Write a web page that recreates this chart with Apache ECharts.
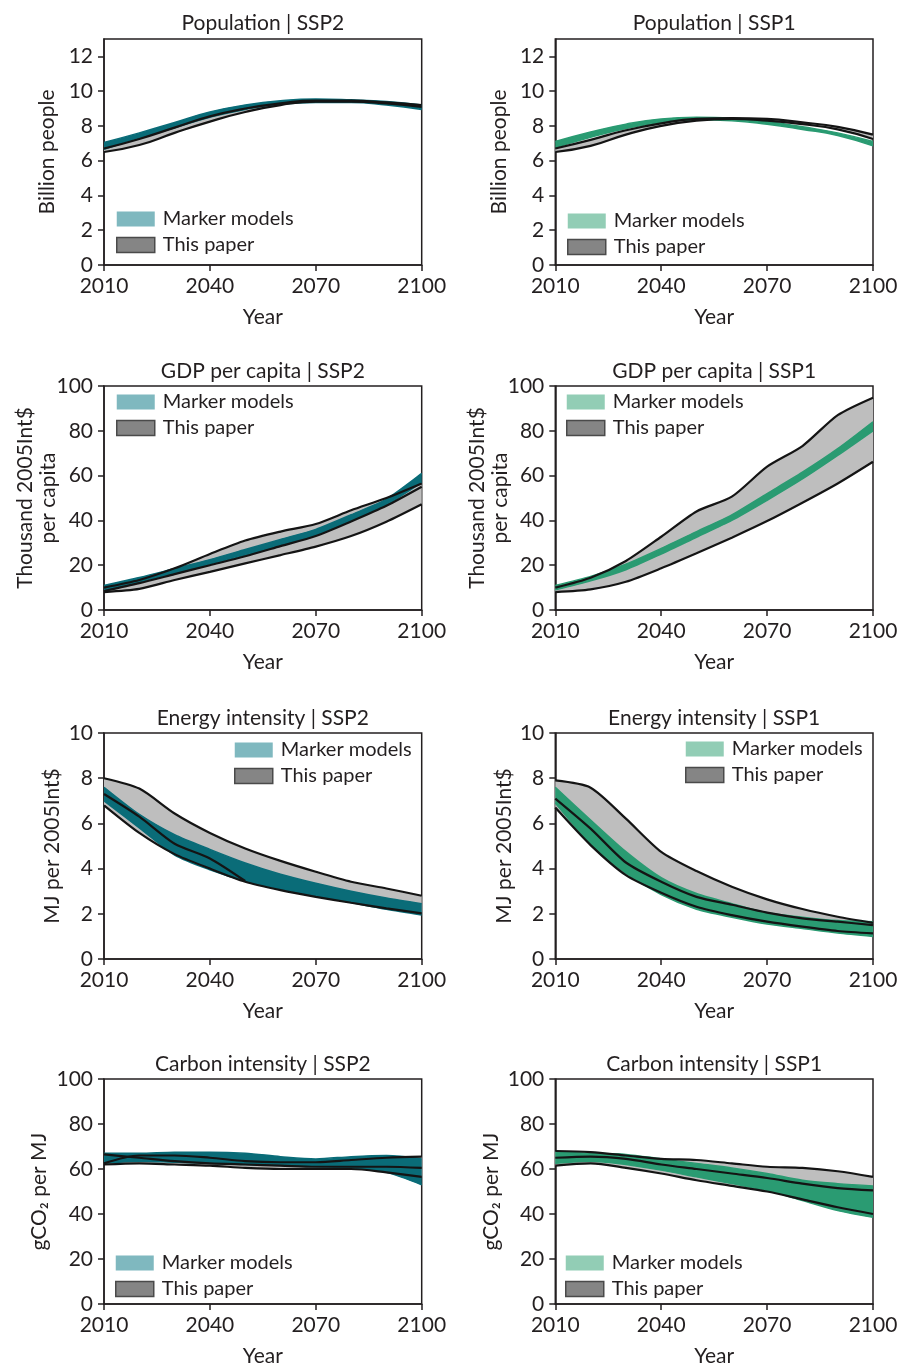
<!DOCTYPE html>
<html><head><meta charset="utf-8">
<script src="https://cdn.jsdelivr.net/npm/echarts@6.0.0/dist/echarts.min.js"></script>
<style>html,body{margin:0;padding:0;background:#fff}#c{width:918px;height:1368px}</style>
</head><body><div id="c"></div>
<script>
// ---------- DATA ----------
const years = ['2010','2020','2030','2040','2050','2060','2070','2080','2090','2100'];

const popTicks = [0,2,4,6,8,10,12];
const pctTicks = [0,20,40,60,80,100];
const eiTicks = [0,2,4,6,8,10];

// Population | SSP2
const popSSP2MarkerLow  = [6.65, 7.3, 7.9, 8.5, 8.95, 9.25, 9.35, 9.35, 9.2, 8.95];
const popSSP2MarkerHigh = [7.05, 7.6, 8.2, 8.8, 9.2, 9.45, 9.55, 9.5, 9.4, 9.2];
const popSSP2PaperLow   = [6.5, 6.9, 7.6, 8.25, 8.8, 9.2, 9.4, 9.4, 9.3, 9.1];
const popSSP2PaperHigh  = [6.7, 7.25, 7.9, 8.55, 9.0, 9.3, 9.45, 9.45, 9.35, 9.2];
// Population | SSP1
const popSSP1MarkerLow  = [6.75, 7.35, 7.85, 8.2, 8.35, 8.3, 8.1, 7.8, 7.45, 6.85];
const popSSP1MarkerHigh = [7.1, 7.65, 8.1, 8.4, 8.5, 8.45, 8.25, 7.95, 7.6, 7.1];
const popSSP1PaperLow   = [6.5, 6.85, 7.5, 8.0, 8.3, 8.4, 8.3, 8.1, 7.8, 7.25];
const popSSP1PaperHigh  = [6.7, 7.2, 7.75, 8.15, 8.4, 8.45, 8.4, 8.2, 7.95, 7.5];
// GDP per capita | SSP2
const gdpSSP2MarkerLow  = [9, 12.5, 16.5, 20.5, 24.5, 29, 33.5, 40, 47, 57];
const gdpSSP2MarkerHigh = [11, 14.5, 18.5, 22.5, 27, 31.5, 36, 42.5, 49.5, 61];
const gdpSSP2PaperLow   = [8, 9.4, 13.4, 17, 20.8, 24.5, 28.3, 33, 39.4, 47.2];
const gdpSSP2PaperHigh  = [10, 13.4, 18.6, 25, 31, 35, 38.4, 44.5, 50, 56.5];
const gdpSSP2PaperMid   = [8.5, 12, 16, 20, 24, 28.5, 33, 39.5, 46.5, 55];
// GDP per capita | SSP1
const gdpSSP1MarkerLow  = [9, 13, 18, 25, 32.5, 40, 49, 58.5, 69, 80];
const gdpSSP1MarkerHigh = [11, 15, 20.5, 27.5, 35, 42.5, 52, 61.5, 72, 84];
const gdpSSP1PaperLow   = [8, 9.2, 12.6, 18.6, 25.3, 32.3, 39.7, 47.9, 56.5, 66.2];
const gdpSSP1PaperHigh  = [10, 14.4, 21.9, 32.7, 44, 50.6, 64, 73.2, 87, 94.8];
// Energy intensity | SSP2
const eiSSP2MarkerLow   = [7.0, 5.8, 4.6, 3.95, 3.45, 3.1, 2.8, 2.5, 2.2, 1.95];
const eiSSP2MarkerHigh  = [7.6, 6.4, 5.5, 4.85, 4.25, 3.75, 3.35, 3.0, 2.7, 2.45];
const eiSSP2PaperLow    = [6.8, 5.58, 4.64, 4.0, 3.42, 3.05, 2.75, 2.49, 2.24, 2.02];
const eiSSP2PaperHigh   = [8.0, 7.54, 6.44, 5.58, 4.89, 4.34, 3.86, 3.42, 3.12, 2.8];
const eiSSP2PaperMid    = [7.3, 6.3, 5.1, 4.45, 3.45, null, null, null, null, null];
// Energy intensity | SSP1
const eiSSP1MarkerLow   = [6.9, 5.1, 3.8, 2.85, 2.2, 1.85, 1.55, 1.35, 1.15, 1.0];
const eiSSP1MarkerHigh  = [7.6, 6.15, 4.75, 3.6, 2.9, 2.45, 2.05, 1.85, 1.7, 1.65];
const eiSSP1PaperLow    = [6.7, 5.04, 3.71, 2.93, 2.31, 1.94, 1.65, 1.43, 1.24, 1.13];
const eiSSP1PaperHigh   = [7.9, 7.58, 6.21, 4.74, 3.89, 3.2, 2.64, 2.21, 1.87, 1.6];
const eiSSP1PaperMid    = [7.1, 5.77, 4.27, 3.42, 2.75, 2.4, 2.05, 1.8, 1.65, 1.5];
// Carbon intensity | SSP2
const ciSSP2MarkerLow   = [62.5, 63.5, 63, 62.5, 62, 61.5, 61, 60.5, 58.5, 53];
const ciSSP2MarkerHigh  = [67, 67, 67.5, 67.5, 67, 65.5, 64.5, 65.5, 66, 64.5];
const ciSSP2PaperLow    = [62, 62.5, 62, 61.5, 60.5, 60, 60, 60, 58.5, 56.5];
const ciSSP2PaperHigh   = [62.5, 66, 66, 65, 63.5, 63, 63, 64, 65, 65.5];
const ciSSP2PaperMid    = [66.5, 65, 63.5, 62.5, 62, 61.5, 61, 61, 61, 60.5];
// Carbon intensity | SSP1
const ciSSP1MarkerLow   = [62.5, 63.5, 62, 59.5, 56.5, 53.5, 50.5, 46, 41.5, 38.5];
const ciSSP1MarkerHigh  = [67.5, 67, 66.5, 64.5, 62.5, 60.5, 58, 55, 53.5, 52.5];
const ciSSP1PaperLow    = [61.5, 62.5, 60.5, 58, 55, 52.5, 50, 46.5, 43, 40];
const ciSSP1PaperHigh   = [68, 67.5, 66, 64.5, 64, 62.5, 61, 60.5, 59, 56.5];
const ciSSP1PaperMid    = [65, 65.5, 64.5, 62, 60, 58, 56, 53.5, 51.5, 50.5];

// ---------- STYLE / LAYOUT ----------
const FONT = 'Lato';
const TXT = '#231f20';
const FS = 21;
const COLS = [104, 555.3];
const GW = 317.7;
const ROWS = [{top:39, h:226}, {top:386, h:224}, {top:733, h:226}, {top:1079, h:225}];
const TITLE_Y = [22, 370, 717, 1063];
const SCEN = {
  SSP2: {band:'#0a6c78', legend:'#7fb8bf'},
  SSP1: {band:'#2a9b72', legend:'#92cdb5'}
};

const panels = [
  {title:'Population | SSP2', scen:'SSP2', r:0, c:0, yName:'Billion people', nameGap:45, yMax:13, ticks:popTicks, smooth:0.5,
   m:[popSSP2MarkerLow, popSSP2MarkerHigh], p:[popSSP2PaperLow, popSSP2PaperHigh], mid:null, lg:{left:116, top:209}},
  {title:'Population | SSP1', scen:'SSP1', r:0, c:1, yName:'Billion people', nameGap:45, yMax:13, ticks:popTicks, smooth:0.5,
   m:[popSSP1MarkerLow, popSSP1MarkerHigh], p:[popSSP1PaperLow, popSSP1PaperHigh], mid:null, lg:{left:567, top:211}},
  {title:'GDP per capita | SSP2', scen:'SSP2', r:1, c:0, yName:'Thousand 2005Int$\nper capita', nameGap:44, yMax:100, ticks:pctTicks, smooth:0.25,
   m:[gdpSSP2MarkerLow, gdpSSP2MarkerHigh], p:[gdpSSP2PaperLow, gdpSSP2PaperHigh], mid:gdpSSP2PaperMid, lg:{left:116, top:392}},
  {title:'GDP per capita | SSP1', scen:'SSP1', r:1, c:1, yName:'Thousand 2005Int$\nper capita', nameGap:44, yMax:100, ticks:pctTicks, smooth:0.25,
   m:[gdpSSP1MarkerLow, gdpSSP1MarkerHigh], p:[gdpSSP1PaperLow, gdpSSP1PaperHigh], mid:null, lg:{left:566, top:392}},
  {title:'Energy intensity | SSP2', scen:'SSP2', r:2, c:0, yName:'MJ per 2005Int$', nameGap:40, yMax:10, ticks:eiTicks, smooth:0.25,
   m:[eiSSP2MarkerLow, eiSSP2MarkerHigh], p:[eiSSP2PaperLow, eiSSP2PaperHigh], mid:eiSSP2PaperMid, lg:{left:234, top:740}},
  {title:'Energy intensity | SSP1', scen:'SSP1', r:2, c:1, yName:'MJ per 2005Int$', nameGap:40, yMax:10, ticks:eiTicks, smooth:0.25,
   m:[eiSSP1MarkerLow, eiSSP1MarkerHigh], p:[eiSSP1PaperLow, eiSSP1PaperHigh], mid:eiSSP1PaperMid, lg:{left:685, top:739}},
  {title:'Carbon intensity | SSP2', scen:'SSP2', r:3, c:0, yName:'gCO\u2082 per MJ', nameGap:53, yMax:100, ticks:pctTicks, smooth:0.3,
   m:[ciSSP2MarkerLow, ciSSP2MarkerHigh], p:[ciSSP2PaperLow, ciSSP2PaperHigh], mid:ciSSP2PaperMid, lg:{left:115, top:1253}},
  {title:'Carbon intensity | SSP1', scen:'SSP1', r:3, c:1, yName:'gCO\u2082 per MJ', nameGap:53, yMax:100, ticks:pctTicks, smooth:0.3,
   m:[ciSSP1MarkerLow, ciSSP1MarkerHigh], p:[ciSSP1PaperLow, ciSSP1PaperHigh], mid:ciSSP1PaperMid, lg:{left:565, top:1253}}
];

const grid = [], xAxis = [], yAxis = [], series = [], title = [], legend = [];
const noEmph = {disabled:true};

function bandSeries(k, name, lo, hi, color, z, smooth, edge) {
  const st = 'band_' + name + '_' + k;
  const ls = edge ? {width:1.5, color, opacity:1} : {width:0, opacity:0};
  const common = {type:'line', name, xAxisIndex:k, yAxisIndex:k, stack:st, symbol:'none', smooth,
    lineStyle:ls, z, silent:true, emphasis:noEmph};
  return [
    Object.assign({}, common, {data: lo}),
    Object.assign({}, common, {data: hi.map((v, i) => v - lo[i]), areaStyle:{color, opacity:1}})
  ];
}
function blackLine(k, data, smooth) {
  return {type:'line', name:'This paper', xAxisIndex:k, yAxisIndex:k, data, symbol:'none', smooth,
    lineStyle:{color:'#141414', width:2.2}, z:6, silent:true, emphasis:noEmph, connectNulls:false};
}

panels.forEach((p, k) => {
  const left = COLS[p.c], row = ROWS[p.r];
  grid.push({left, top:row.top, width:GW, height:row.h, show:true, borderColor:TXT, borderWidth:1.5, backgroundColor:'transparent'});
  xAxis.push({
    type:'category', gridIndex:k, data:years, boundaryGap:false,
    name:'Year', nameLocation:'middle', nameGap:42, nameMoveOverlap:false,
    nameTextStyle:{fontFamily:FONT, fontSize:FS, color:TXT},
    axisLine:{lineStyle:{color:TXT, width:1.5}},
    axisTick:{show:true, interval:2, length:6, lineStyle:{color:TXT, width:1.5}},
    axisLabel:{interval:2, margin:11, fontFamily:FONT, fontSize:FS, color:TXT},
    splitLine:{show:false}
  });
  yAxis.push({
    type:'value', gridIndex:k, min:0, max:p.yMax,
    name:p.yName, nameLocation:'middle', nameGap:p.nameGap, nameRotate:90, nameMoveOverlap:false,
    nameTextStyle:{fontFamily:FONT, fontSize:FS, color:TXT, lineHeight:23},
    axisLine:{show:true, lineStyle:{color:TXT, width:1.5}},
    axisTick:{show:true, length:6, customValues:p.ticks, lineStyle:{color:TXT, width:1.5}},
    axisLabel:{customValues:p.ticks, margin:11, fontFamily:FONT, fontSize:FS, color:TXT},
    splitLine:{show:false}
  });
  title.push({
    text:p.title, left:left + GW / 2, top:TITLE_Y[p.r] - 11, textAlign:'center', padding:0,
    textStyle:{fontFamily:FONT, fontSize:FS, fontWeight:'normal', color:TXT, lineHeight:24}
  });
  const sc = SCEN[p.scen];
  legend.push({
    orient:'vertical', left:p.lg.left, top:p.lg.top, padding:0, itemGap:6,
    itemWidth:38, itemHeight:15, icon:'rect', selectedMode:false,
    textStyle:{fontFamily:FONT, fontSize:FS - 1, color:TXT, padding:[0,0,0,3]},
    data:[
      {name:'Marker models', icon:'rect', itemStyle:{color:sc.legend, borderWidth:0}},
      {name:'This paper', icon:'rect', itemStyle:{color:'#858585', borderColor:'#4a4a4a', borderWidth:1.5}}
    ]
  });
  // gray band (This paper)
  series.push(...bandSeries(k, 'This paper', p.p[0], p.p[1], '#bebebe', 2, p.smooth, false));
  // coloured band (Marker models)
  series.push(...bandSeries(k, 'Marker models', p.m[0], p.m[1], sc.band, 3, p.smooth, true));
  // black outlines of this paper's range
  series.push(blackLine(k, p.p[0], p.smooth));
  series.push(blackLine(k, p.p[1], p.smooth));
  if (p.mid) series.push(blackLine(k, p.mid, p.smooth));
});

const chart = echarts.init(document.getElementById('c'), null, {renderer:'canvas'});
chart.setOption({
  animation:false,
  backgroundColor:'#ffffff',
  textStyle:{fontFamily:FONT},
  title, legend, grid, xAxis, yAxis, series
});
</script></body></html>
